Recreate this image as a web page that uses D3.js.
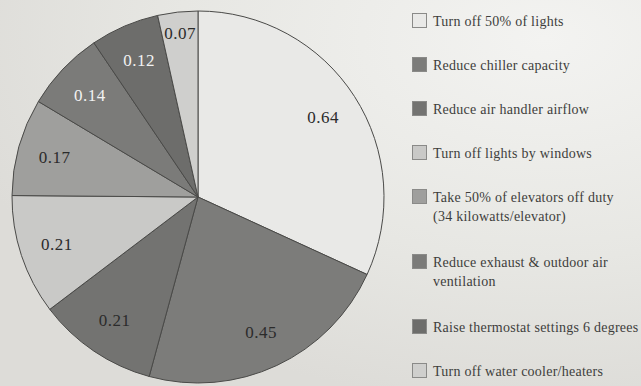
<!DOCTYPE html>
<html>
<head>
<meta charset="utf-8">
<script src="https://cdn.jsdelivr.net/npm/d3@7/dist/d3.min.js"></script>
<style>
  html, body { margin: 0; padding: 0; background: #e4e4e0; }
  svg { display: block; }
  .serif { font-family: "Liberation Serif", "Tinos", "Times New Roman", "DejaVu Serif", serif; }
</style>
</head>
<body>
<svg id="chart" width="641" height="386"></svg>
<script>
// Energy savings measures (values shown on each slice)
const categories = [
  "Turn off 50% of lights",
  "Reduce chiller capacity",
  "Reduce air handler airflow",
  "Turn off lights by windows",
  "Take 50% of elevators off duty\n(34 kilowatts/elevator)",
  "Reduce exhaust & outdoor air\nventilation",
  "Raise thermostat settings 6 degrees",
  "Turn off water cooler/heaters"
];
const values = [0.64, 0.45, 0.21, 0.21, 0.17, 0.14, 0.12, 0.07];
const sliceColors = ["#e9e9e7", "#7c7c7a", "#737371", "#c9c9c7", "#9f9f9d", "#7b7b79", "#6d6d6b", "#cfcfcd"];
const labelColors = ["#2b2b2b", "#2b2b2b", "#2b2b2b", "#2b2b2b", "#2b2b2b", "#f2f2f2", "#f2f2f2", "#2b2b2b"];

const svg = d3.select("#chart");
const W = 641, H = 386;

// soft paper-like backdrop, brighter toward the upper right
const defs = svg.append("defs");
const bg = defs.append("radialGradient").attr("id", "bg")
  .attr("cx", 0.85).attr("cy", 0.1).attr("r", 0.95);
bg.append("stop").attr("offset", "0%").attr("stop-color", "#f3f3f1");
bg.append("stop").attr("offset", "60%").attr("stop-color", "#e7e7e3");
bg.append("stop").attr("offset", "100%").attr("stop-color", "#dddcd8");
svg.append("rect").attr("width", W).attr("height", H).attr("fill", "url(#bg)");

// pie
const cx = 198, cy = 197, R = 186;
const color = d3.scaleOrdinal().domain(d3.range(values.length)).range(sliceColors);
const pie = d3.pie().sort(null).value(i => values[i]);
const arcs = pie(d3.range(values.length));
const arc = d3.arc().innerRadius(0).outerRadius(R);

const g = svg.append("g").attr("transform", `translate(${cx},${cy})`);
g.selectAll("path.slice").data(arcs).join("path")
  .attr("class", "slice")
  .attr("d", arc)
  .attr("fill", d => color(d.data))
  .attr("stroke", "#4a4a48")
  .attr("stroke-width", 1)
  .attr("stroke-linejoin", "round");

// value labels; narrow slices get their label pushed outward
const fmt = d3.format(".2f");
g.selectAll("text.val").data(arcs).join("text")
  .attr("class", "val serif")
  .attr("transform", d => {
    const r = values[d.data] < 0.1 ? R * 0.885 : R * 0.8;
    const c = d3.arc().innerRadius(r).outerRadius(r).centroid(d);
    return `translate(${c[0]},${c[1]})`;
  })
  .attr("text-anchor", "middle")
  .attr("dy", "0.36em")
  .style("font-size", "17px")
  .style("letter-spacing", "0.5px")
  .attr("fill", d => labelColors[d.data])
  .text(d => fmt(values[d.data]));

// legend
const legend = svg.append("g").attr("transform", "translate(412,0)");
const lineH = 19, baseStep = 44;
let y = 21;
categories.forEach((label, i) => {
  const lines = label.split("\n");
  const row = legend.append("g").attr("transform", `translate(0,${y})`);
  row.append("rect")
    .attr("x", 0.5).attr("y", -7.5)
    .attr("width", 14).attr("height", 14)
    .attr("fill", color(i))
    .attr("stroke", "#8a8a88")
    .attr("stroke-width", 1);
  const t = row.append("text")
    .attr("class", "serif")
    .attr("x", 21)
    .style("font-size", "14px")
    .style("letter-spacing", "0.25px")
    .attr("fill", "#3e3e3c");
  lines.forEach((s, k) => {
    t.append("tspan").attr("x", 21).attr("y", k * lineH).attr("dy", "0.35em").text(s);
  });
  y += baseStep + (lines.length - 1) * 21;
});
</script>
</body>
</html>
